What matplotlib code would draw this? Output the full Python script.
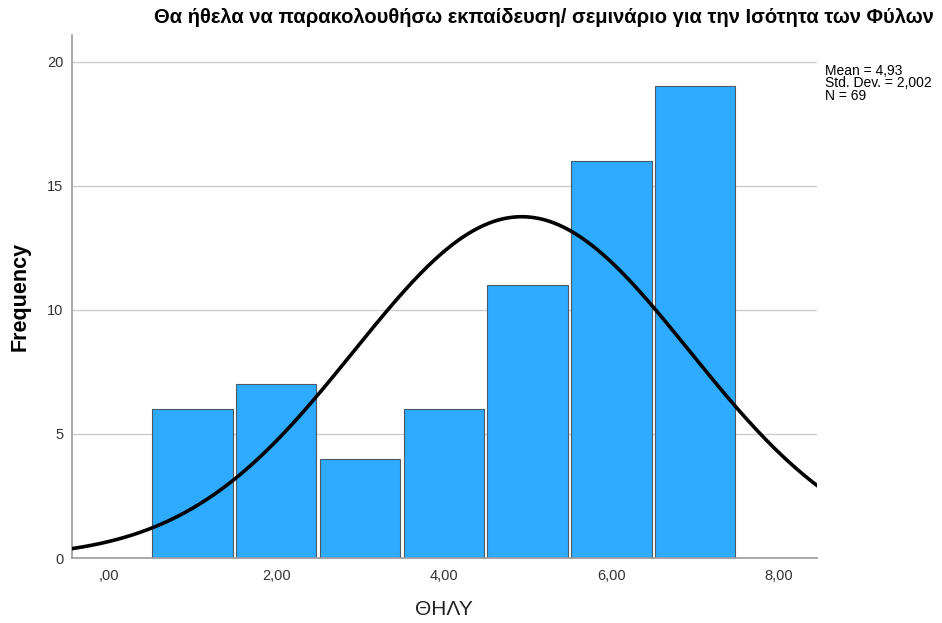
import numpy as np
import matplotlib.pyplot as plt

plt.rcParams['font.family'] = ['Liberation Sans', 'DejaVu Sans']

# Data
bin_centers = [1, 2, 3, 4, 5, 6, 7]
frequencies = [6, 7, 4, 6, 11, 16, 19]
mean_val = 4.93
std_val = 2.002
n_val = 69
xtick_vals = [0, 2, 4, 6, 8]
xtick_labels = [',00', '2,00', '4,00', '6,00', '8,00']
ytick_vals = [0, 5, 10, 15, 20]

fig = plt.figure(figsize=(9.42, 6.23), dpi=100)
ax = fig.add_axes([0.0761, 0.1043, 0.7909, 0.8395])

ax.bar(bin_centers, frequencies, width=0.96, color='#2eaaff',
       edgecolor='#4a5a66', linewidth=0.8, zorder=2)

# normal curve scaled to counts (bin width 1)
xmin, xmax = -0.44, 8.45
xs = np.linspace(xmin, xmax, 400)
ys = n_val * 1.0 / (std_val * np.sqrt(2 * np.pi)) * np.exp(-0.5 * ((xs - mean_val) / std_val) ** 2)
ax.plot(xs, ys, color='black', linewidth=2.6, zorder=3)

ax.set_xlim(xmin, xmax)
ax.set_ylim(0, 21.07)
ax.set_xticks(xtick_vals)
ax.set_xticklabels(xtick_labels)
ax.set_yticks(ytick_vals)
ax.tick_params(length=0, labelsize=10.5, colors='#333333', pad=8)
ax.tick_params(axis='y', pad=6)
for v in ytick_vals[1:]:
    ax.axhline(v, color='#cccccc', linewidth=1.0, zorder=1)

for s in ['top', 'right']:
    ax.spines[s].set_visible(False)
for s in ['left', 'bottom']:
    ax.spines[s].set_color('#999999')
    ax.spines[s].set_linewidth(1.2)

ax.set_ylabel('Frequency', fontsize=15.5, fontweight='bold', labelpad=12)
ax.set_xlabel('ΘΗΛΥ', fontsize=15, labelpad=12, color='#222222')

fig.text(0.577, 0.972, 'Θα ήθελα να παρακολουθήσω εκπαίδευση/ σεμινάριο για την Ισότητα των Φύλων',
         ha='center', va='center', fontsize=14.5, fontweight='bold')

fig.text(0.876, 0.898, 'Mean = 4,93\nStd. Dev. = 2,002\nN = 69',
         ha='left', va='top', fontsize=10, linespacing=0.9)

fig.savefig('out.png', dpi=100)
